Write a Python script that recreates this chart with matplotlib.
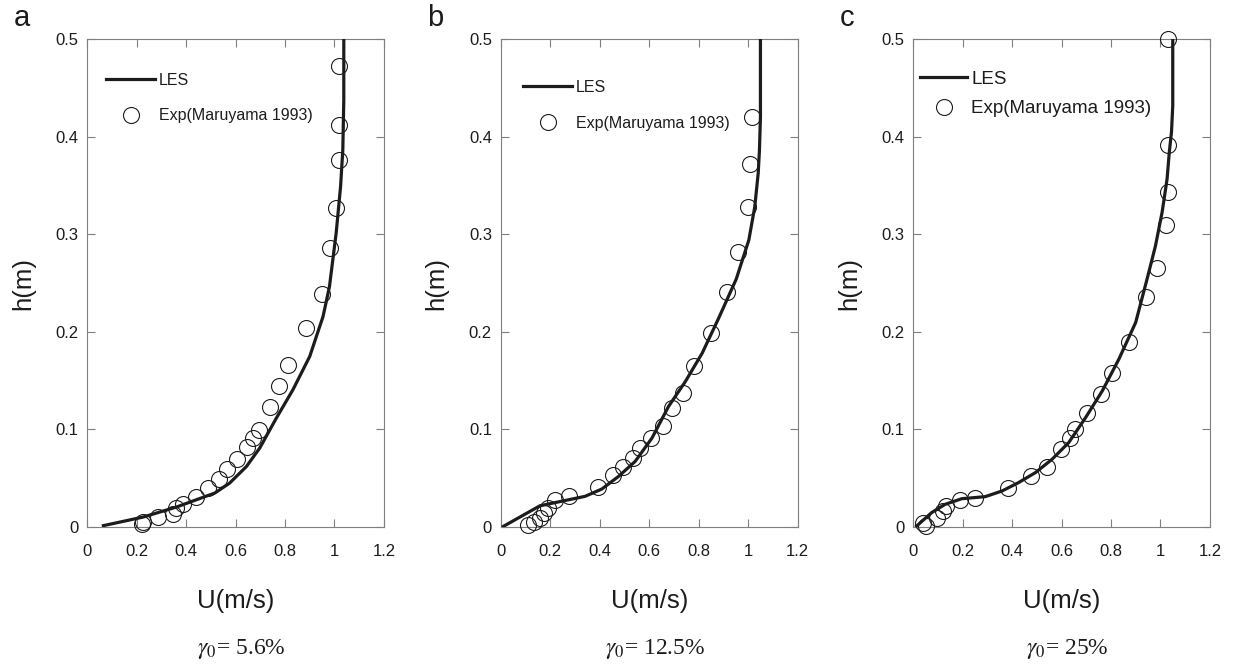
import matplotlib
matplotlib.use("Agg")
import matplotlib.pyplot as plt
from matplotlib.ticker import FuncFormatter

plt.rcParams['font.family'] = ['Liberation Sans', 'DejaVu Sans']
plt.rcParams['mathtext.fontset'] = 'stix'

# panel a, gamma0 = 5.6%
a_les_u = [0.065, 0.226, 0.361, 0.516, 0.576, 0.644, 0.698, 0.765, 0.832, 0.900,
           0.954, 0.980, 1.007, 1.025, 1.034, 1.038, 1.038]
a_les_h = [0.0014, 0.0102, 0.0205, 0.0348, 0.045, 0.062, 0.081, 0.1116, 0.1406, 0.1747,
           0.2157, 0.2464, 0.301, 0.349, 0.3865, 0.438, 0.5]
a_exp_u = [0.222, 0.225, 0.287, 0.347, 0.357, 0.388, 0.438, 0.488, 0.533, 0.566, 0.605,
           0.648, 0.671, 0.694, 0.739, 0.777, 0.813, 0.884, 0.951, 0.983, 1.007, 1.018,
           1.018, 1.018]
a_exp_h = [0.003, 0.0055, 0.0102, 0.0133, 0.0195, 0.024, 0.031, 0.040, 0.0495, 0.0597,
           0.070, 0.0816, 0.091, 0.0997, 0.123, 0.144, 0.166, 0.204, 0.239, 0.2856,
           0.3267, 0.376, 0.4115, 0.4727]

# panel b, gamma0 = 12.5%
b_les_u = [0.01, 0.158, 0.34, 0.408, 0.476, 0.543, 0.611, 0.678, 0.746, 0.814, 0.881,
           0.952, 1.003, 1.027, 1.041, 1.046, 1.05, 1.05]
b_les_h = [0.0007, 0.0218, 0.0314, 0.0389, 0.0519, 0.0672, 0.0911, 0.1235, 0.149, 0.178,
           0.214, 0.254, 0.294, 0.328, 0.3626, 0.386, 0.42, 0.5]
b_exp_u = [0.111, 0.135, 0.158, 0.176, 0.189, 0.219, 0.277, 0.392, 0.455, 0.493, 0.534,
           0.564, 0.608, 0.655, 0.692, 0.735, 0.78, 0.849, 0.916, 0.958, 1.0, 1.009, 1.016]
b_exp_h = [0.0024, 0.005, 0.0089, 0.0143, 0.0195, 0.0273, 0.0314, 0.0406, 0.053, 0.0614,
           0.0706, 0.081, 0.091, 0.103, 0.1215, 0.137, 0.1645, 0.1993, 0.241, 0.2822,
           0.3284, 0.372, 0.42]

# panel c, gamma0 = 25%
c_les_u = [0.0135, 0.074, 0.1285, 0.196, 0.291, 0.359, 0.426, 0.494, 0.5616, 0.629,
           0.697, 0.765, 0.832, 0.9, 0.948, 0.98, 1.007, 1.027, 1.036, 1.045, 1.05, 1.05]
c_les_h = [0.001, 0.0147, 0.0232, 0.029, 0.0311, 0.0369, 0.0455, 0.0557, 0.0694, 0.0865,
           0.112, 0.1395, 0.172, 0.2096, 0.256, 0.288, 0.3226, 0.3565, 0.384, 0.405,
           0.432, 0.5]
c_exp_u = [0.04, 0.05, 0.095, 0.122, 0.131, 0.189, 0.248, 0.383, 0.476, 0.541, 0.599,
           0.636, 0.654, 0.704, 0.758, 0.805, 0.874, 0.94, 0.985, 1.023, 1.031, 1.031, 1.03]
c_exp_h = [0.0044, 0.0015, 0.0096, 0.0164, 0.0215, 0.0277, 0.030, 0.0403, 0.0523, 0.0619,
           0.0803, 0.0916, 0.1002, 0.1166, 0.136, 0.158, 0.19, 0.236, 0.265, 0.3096,
           0.343, 0.391, 0.5]

letters = ["a", "b", "c"]
gammas = ["5.6%", "12.5%", "25%"]
x_ticks = [0, 0.2, 0.4, 0.6, 0.8, 1.0, 1.2]
y_ticks = [0, 0.1, 0.2, 0.3, 0.4, 0.5]

panels = [(a_les_u, a_les_h, a_exp_u, a_exp_h),
          (b_les_u, b_les_h, b_exp_u, b_exp_h),
          (c_les_u, c_les_h, c_exp_u, c_exp_h)]

lefts = [0.0708, 0.4063, 0.7407]
# legend placement / size per panel (layout only)
leg_anchor = [(0.063, 0.931), (0.074, 0.9165), (0.024, 0.935)]
leg_font = [11.5, 11.5, 13.5]
leg_space = [1.29, 1.33, 0.66]
leg_hlen = [3.1, 3.1, 2.5]

ink = "#1c1c1c"
frame = "#7f7f7f"

fig = plt.figure(figsize=(12.33, 6.65), dpi=100)

for i, (lu, lh, eu, eh) in enumerate(panels):
    ax = fig.add_axes([lefts[i], 0.2075, 0.2405, 0.7338])
    ax.plot(lu, lh, color=ink, lw=2.3, label="LES", zorder=3)
    ax.plot(eu, eh, ls="none", marker="o", ms=11.5, mfc="none", mec=ink, mew=0.8,
            label="Exp(Maruyama 1993)", clip_on=False, zorder=4)
    ax.set_xlim(0, 1.2)
    ax.set_ylim(0, 0.5)
    ax.set_xticks(x_ticks)
    ax.set_yticks(y_ticks)
    ax.xaxis.set_major_formatter(FuncFormatter(lambda v, p: "%g" % v))
    ax.yaxis.set_major_formatter(FuncFormatter(lambda v, p: "%g" % v))
    ax.tick_params(axis="both", direction="in", length=6, width=0.8, color=frame,
                   top=True, right=True, labelsize=12, labelcolor=ink)
    ax.tick_params(axis="x", pad=12.5)
    ax.tick_params(axis="y", pad=6.5)
    for s in ax.spines.values():
        s.set_color(frame)
        s.set_linewidth(0.8)

    ax.set_xlabel("U(m/s)", fontsize=18.5, color=ink, va="center")
    ax.xaxis.set_label_coords(0.5, -0.152)
    ax.set_ylabel("h(m)", fontsize=18.5, color=ink, va="center")
    ax.yaxis.set_label_coords(-0.217, 0.5)

    leg = ax.legend(loc="upper left", bbox_to_anchor=leg_anchor[i], frameon=False,
                    fontsize=leg_font[i], labelspacing=leg_space[i],
                    handlelength=leg_hlen[i], handletextpad=0.2, borderpad=0,
                    borderaxespad=0, numpoints=1)
    for t in leg.get_texts():
        t.set_color(ink)

    ax.text(-0.222, 1.043, letters[i], transform=ax.transAxes, fontsize=21,
            color=ink, ha="center", va="center")
    ax.text(0.52, -0.25, r"$\gamma_{0}$= " + gammas[i], transform=ax.transAxes,
            fontsize=17, color=ink, ha="center", va="center",
            family=["Liberation Serif", "DejaVu Serif"])

fig.savefig("out.png", dpi=100)
